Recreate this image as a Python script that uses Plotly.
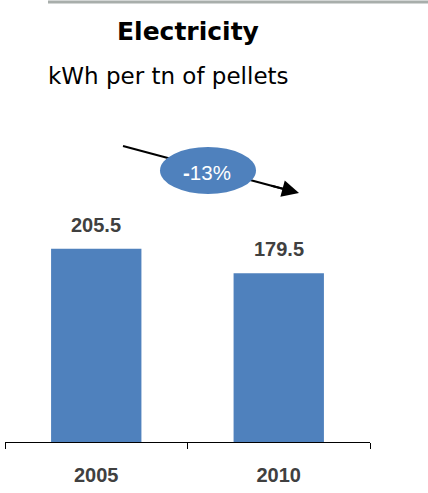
import plotly.graph_objects as go

years = ["2005", "2010"]
values = [205.5, 179.5]
change_label = "<b>-</b>13%"
title = "Electricity"
subtitle = "kWh per tn of pellets"

W, H = 428, 493
L, R, T, B = 5, 58, 100, 51
PW, PH = W - L - R, H - T - B
BLUE = "#4F81BD"
DARK = "#404040"
FONT = "Liberation Sans, Arial, sans-serif"
WIDE = "DejaVu Sans, Liberation Sans, sans-serif"


def px(x):
    return (x - L) / PW


def py(y):
    return (H - B - y) / PH


fig = go.Figure()
fig.add_trace(go.Bar(x=years, y=values, marker=dict(color=BLUE, line=dict(width=0)),
                     hoverinfo="skip"))

for i, v in enumerate(values):
    fig.add_annotation(x=i, y=v, text=f"<b>{v:.1f}</b>", showarrow=False,
                       xanchor="center", yanchor="bottom", yshift=11,
                       font=dict(size=20, color=DARK, family=FONT))

# title and subtitle
fig.add_annotation(xref="paper", yref="paper", x=px(188), y=py(32), text=f"<b>{title}</b>",
                   showarrow=False, xanchor="center", yanchor="middle",
                   font=dict(size=25, color="black", family=WIDE))
fig.add_annotation(xref="paper", yref="paper", x=px(46), y=py(76), text=subtitle,
                   showarrow=False, xanchor="left", yanchor="middle",
                   font=dict(size=23, color="black", family=WIDE))

# arrow: shaft as a shape (under the ellipse), head as an annotation
tail = (123, 146)
head = (299, 193)
dx, dy = head[0] - tail[0], head[1] - tail[1]
n = (dx ** 2 + dy ** 2) ** 0.5
ux, uy = dx / n, dy / n
fig.add_shape(type="line", xref="paper", yref="paper",
              x0=px(tail[0]), y0=py(tail[1]), x1=px(head[0] - ux * 10), y1=py(head[1] - uy * 10),
              line=dict(color="black", width=2))
fig.add_annotation(xref="paper", yref="paper", x=px(head[0]), y=py(head[1]),
                   ax=-ux * 30, ay=-uy * 30, axref="pixel", ayref="pixel", text="",
                   showarrow=True, arrowhead=2, arrowsize=1.7, arrowwidth=2, arrowcolor="black")

# ellipse with change label
fig.add_shape(type="circle", xref="paper", yref="paper", x0=px(160), x1=px(256),
              y0=py(194), y1=py(147), fillcolor=BLUE, line=dict(width=0))
fig.add_annotation(xref="paper", yref="paper", x=px(207), y=py(172), text=change_label,
                   showarrow=False, xanchor="center", yanchor="middle",
                   font=dict(size=20.5, color="white", family=FONT))

# top gray rule
fig.add_shape(type="line", xref="paper", yref="paper", x0=px(48), x1=px(428),
              y0=py(2), y1=py(2), line=dict(color="#A8AEAB", width=3))

fig.update_layout(
    width=W, height=H, margin=dict(l=L, r=R, t=T, b=B),
    plot_bgcolor="white", paper_bgcolor="white", showlegend=False,
    bargap=0.505,
    font=dict(family=FONT),
)
fig.update_xaxes(type="category", range=[-0.5, len(years) - 0.5], showline=True,
                 linecolor="black", linewidth=1, ticks="outside",
                 tickson="boundaries", ticklen=6, tickcolor="black", showgrid=False,
                 tickfont=dict(size=20, color=DARK, family=FONT), ticklabelstandoff=15,
                 tickprefix="<b>", ticksuffix="</b>", automargin=False, tickangle=0)
fig.update_yaxes(range=[0, PH / 0.94], visible=False, showgrid=False, automargin=False)

fig.write_html("out.html", config={"displayModeBar": False},
               post_script="document.body.style.margin='0';")
